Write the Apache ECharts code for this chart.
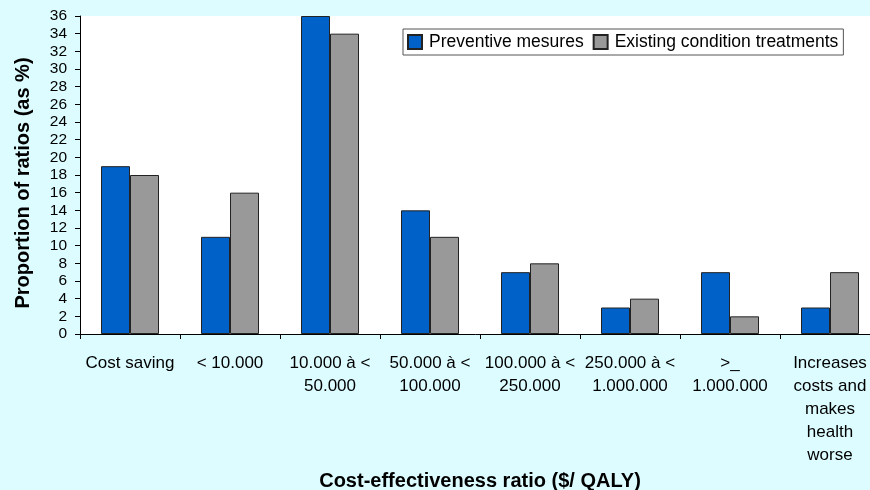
<!DOCTYPE html>
<html>
<head>
<meta charset="utf-8">
<script src="https://cdn.jsdelivr.net/npm/echarts@6/dist/echarts.min.js"></script>
<style>
html,body{margin:0;padding:0;background:#ddfcff;}
#c{width:870px;height:490px;}
</style>
</head>
<body>
<div id="c"></div>
<script>
const categories = ["Cost saving", "< 10.000", "10.000 à <\n50.000", "50.000 à <\n100.000", "100.000 à <\n250.000", "250.000 à <\n1.000.000", ">_\n1.000.000", "Increases\ncosts and\nmakes\nhealth\nworse"];
const preventive = [19, 11, 36, 14, 7, 3, 7, 3];
const existing = [18, 16, 34, 11, 8, 4, 2, 7];
const seriesNames = ["Preventive mesures", "Existing condition treatments"];

const chart = echarts.init(document.getElementById('c'));
const font = 'Liberation Sans, Arial, Helvetica, sans-serif';
chart.setOption({
  backgroundColor: '#ddfcff',
  animation: false,
  textStyle: {fontFamily: font},
  grid: {left: 80, top: 16, width: 800, height: 318, show: true, backgroundColor: '#ffffff', borderWidth: 0, outerBoundsMode: 'none', containLabel: false},
  legend: {
    left: 403, top: 29, width: 450,
    padding: [4, 5, 4, 4],
    backgroundColor: '#ffffff', borderColor: '#555', borderWidth: 1, borderRadius: 0,
    itemWidth: 14, itemHeight: 14, itemGap: 9,
    icon: 'rect',
    textStyle: {fontSize: 17.5, color: '#000', fontFamily: font, padding: [0, 0, 0, 2]},
    data: seriesNames
  },
  xAxis: {
    type: 'category', data: categories,
    name: 'Cost-effectiveness ratio ($/ QALY)', nameLocation: 'middle', nameGap: 136,
    nameTextStyle: {fontSize: 20, fontWeight: 'bold', color: '#000', fontFamily: font},
    axisLine: {lineStyle: {color: '#000', width: 1}},
    axisTick: {show: true, length: 5, lineStyle: {color: '#000'}},
    axisLabel: {fontSize: 17, color: '#000', margin: 18, lineHeight: 23, interval: 0, fontFamily: font, verticalAlign: 'top'},
    splitLine: {show: false}
  },
  yAxis: {
    type: 'value', min: 0, max: 36, interval: 2,
    name: 'Proportion of ratios (as %)', nameLocation: 'middle', nameGap: 47,
    nameTextStyle: {fontSize: 20, fontWeight: 'bold', color: '#000', fontFamily: font, padding: [0, 16, 0, 0]},
    axisLine: {show: true, lineStyle: {color: '#000', width: 1}},
    axisTick: {show: true, length: 5, lineStyle: {color: '#000'}},
    axisLabel: {fontSize: 15.5, color: '#000', margin: 13, fontFamily: font},
    splitLine: {show: false}
  },
  series: [
    {name: seriesNames[0], type: 'bar', data: preventive, barGap: '0%', barCategoryGap: '42%',
     itemStyle: {color: '#0062c8', borderColor: '#222', borderWidth: 1}},
    {name: seriesNames[1], type: 'bar', data: existing, barGap: '0%', barCategoryGap: '42%',
     itemStyle: {color: '#999999', borderColor: '#222', borderWidth: 1}}
  ]
});
</script>
</body>
</html>
